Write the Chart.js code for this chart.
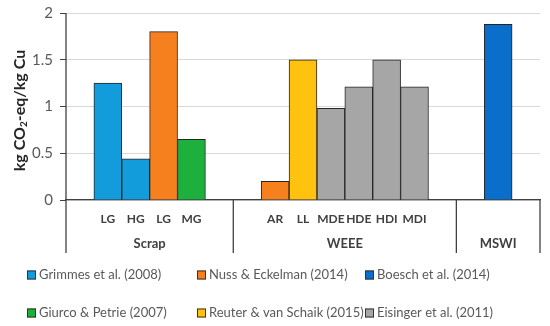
<!DOCTYPE html>
<html>
<head>
<meta charset="utf-8">
<script src="https://cdn.jsdelivr.net/npm/chart.js@4"></script>
<style>
  body { margin: 0; background: #fff; overflow: hidden; }
  #wrap { width: 550px; height: 329px; position: relative; margin-top: -3px; }
</style>
</head>
<body>
<div id="wrap"><canvas id="co2Chart"></canvas></div>
<script>
// slots along the x axis (empty strings are spacer slots)
const categories = ['', 'LG', 'HG', 'LG', 'MG', '', '', 'AR', 'LL', 'MDE', 'HDE', 'HDI', 'MDI', '', '', '', ''];

const grimmes  = [null, 1.25, 0.44, null, null, null, null, null, null, null, null, null, null, null, null, null, null];
const nuss     = [null, null, null, 1.8, null, null, null, 0.2, null, null, null, null, null, null, null, null, null];
const boesch   = [null, null, null, null, null, null, null, null, null, null, null, null, null, null, null, 1.88, null];
const giurco   = [null, null, null, null, 0.65, null, null, null, null, null, null, null, null, null, null, null, null];
const reuter   = [null, null, null, null, null, null, null, null, 1.5, null, null, null, null, null, null, null, null];
const eisinger = [null, null, null, null, null, null, null, null, null, 0.98, 1.21, 1.5, 1.21, null, null, null, null];

const yTicks = [0, 0.5, 1, 1.5, 2];

// group names with the slot index where each one ends
const groupNames = ['Scrap', 'WEEE', 'MSWI'];
const groupEnds = [6, 14, 17];

const textFont = 'Lato, "Open Sans", sans-serif';

// Axis lines, group separators, y title and the legend
const extras = {
    id: 'extras',
    afterDraw(chart) {
        const c = chart.ctx;
        const area = chart.chartArea;
        const slotW = (area.right - area.left) / categories.length;
        const lineBottom = area.bottom + 53;

        c.save();
        c.strokeStyle = '#404040';
        c.lineWidth = 1.3;

        // y axis line running down into the group box
        c.beginPath();
        c.moveTo(area.left, area.top);
        c.lineTo(area.left, lineBottom);
        c.stroke();

        // group separators + names
        let start = 0;
        groupEnds.forEach(function (end, i) {
            const px = area.left + end * slotW;
            c.beginPath();
            c.moveTo(px, area.bottom);
            c.lineTo(px, lineBottom);
            c.stroke();
            const mid = area.left + (start + end) / 2 * slotW;
            c.fillStyle = '#404040';
            c.font = 'bold 13px ' + textFont;
            c.textAlign = 'center';
            c.textBaseline = 'middle';
            c.fillText(groupNames[i], mid, area.bottom + 44);
            start = end;
        });

        // y axis title, rotated, with a real subscript
        c.translate(20, (area.top + area.bottom) / 2 + 4);
        c.rotate(-Math.PI / 2);
        c.fillStyle = '#262626';
        c.textBaseline = 'middle';
        c.textAlign = 'left';
        const big = 'bold 16px ' + textFont;
        const small = 'bold 10px ' + textFont;
        c.font = big;
        const p1 = 'kg CO', p3 = '-eq/kg Cu';
        const w1 = c.measureText(p1).width;
        const w3 = c.measureText(p3).width;
        c.font = small;
        const w2 = c.measureText('2').width;
        let tx = -(w1 + w2 + w3) / 2;
        c.font = big;
        c.fillText(p1, tx, 0);
        tx += w1;
        c.font = small;
        c.fillText('2', tx, 4);
        tx += w2;
        c.font = big;
        c.fillText(p3, tx, 0);
        c.restore();

        // legend, 3 columns x 2 rows
        const colX = [27, 197, 365];
        const rowY = [278, 316];
        c.save();
        c.font = '13px ' + textFont;
        c.textBaseline = 'middle';
        c.textAlign = 'left';
        chart.data.datasets.forEach(function (ds, i) {
            const bx = colX[i % 3];
            const by = rowY[Math.floor(i / 3)];
            c.fillStyle = ds.backgroundColor;
            c.fillRect(bx, by - 4.5, 9, 9);
            c.strokeStyle = '#333';
            c.lineWidth = 1;
            c.strokeRect(bx + 0.5, by - 4, 8, 8);
            c.fillStyle = '#595959';
            c.fillText(ds.label, bx + 12, by);
        });
        c.restore();
    }
};

function barSet(label, color, values) {
    return {
        label: label,
        data: values,
        backgroundColor: color,
        borderColor: '#262626',
        borderWidth: 1,
        borderSkipped: 'bottom',
        barPercentage: 1,
        categoryPercentage: 1,
        grouped: false
    };
}

const ctx = document.getElementById('co2Chart').getContext('2d');
const co2Chart = new Chart(ctx, {
    type: 'bar',
    data: {
        labels: categories,
        datasets: [
            barSet('Grimmes et al. (2008)', '#139CDC', grimmes),
            barSet('Nuss & Eckelman (2014)', '#F7801E', nuss),
            barSet('Boesch et al. (2014)', '#0A6ECB', boesch),
            barSet('Giurco & Petrie (2007)', '#1DB03C', giurco),
            barSet('Reuter & van Schaik (2015)', '#FFC20E', reuter),
            barSet('Eisinger et al. (2011)', '#A6A6A6', eisinger)
        ]
    },
    options: {
        responsive: true,
        maintainAspectRatio: false,
        animation: false,
        layout: { padding: { top: 0, right: 10, left: 0, bottom: 0 } },
        plugins: {
            legend: { display: false },
            tooltip: { enabled: false }
        },
        scales: {
            x: {
                grid: { display: false, drawTicks: false },
                border: { display: true, color: '#404040', width: 1.3 },
                ticks: {
                    autoSkip: false,
                    maxRotation: 0,
                    padding: 12,
                    color: '#404040',
                    font: { family: textFont, size: 12, weight: 'bold' }
                },
                afterFit: function (scale) { scale.height = 126; }
            },
            y: {
                min: 0,
                max: 2,
                afterBuildTicks: function (scale) {
                    scale.ticks = yTicks.map(function (v) { return { value: v }; });
                },
                grid: {
                    color: '#D9D9D9',
                    tickColor: '#404040',
                    tickLength: 6,
                    drawTicks: true
                },
                border: { display: false },
                ticks: {
                    padding: 7,
                    color: '#595959',
                    font: { family: textFont, size: 15 },
                    callback: function (v) { return String(v); }
                },
                afterFit: function (scale) { scale.width = 66; }
            }
        }
    },
    plugins: [extras]
});
</script>
</body>
</html>
